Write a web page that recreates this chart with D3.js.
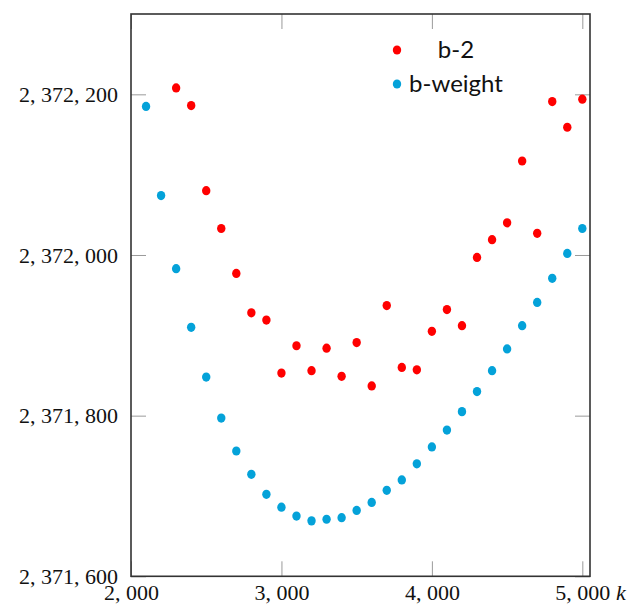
<!DOCTYPE html>
<html>
<head>
<meta charset="utf-8">
<script src="https://cdn.jsdelivr.net/npm/d3@7"></script>
<style>
  html, body { margin: 0; padding: 0; background: #fff; }
  svg { display: block; }
</style>
</head>
<body>
<svg id="chart" width="644" height="604"></svg>
<script>
// k values shared by both series
const kValues = [2100, 2200, 2300, 2400, 2500, 2600, 2700, 2800, 2900, 3000,
                 3100, 3200, 3300, 3400, 3500, 3600, 3700, 3800, 3900, 4000,
                 4100, 4200, 4300, 4400, 4500, 4600, 4700, 4800, 4900, 5000];

// b-2 starts at k = 2300
const b2K = kValues.slice(2);
const b2Values = [2372208, 2372186, 2372080, 2372033, 2371977, 2371928, 2371919, 2371853,
                  2371887, 2371856, 2371884, 2371849, 2371891, 2371837, 2371937, 2371860,
                  2371857, 2371905, 2371932, 2371912, 2371997, 2372019, 2372040, 2372117,
                  2372027, 2372191, 2372159, 2372194];

const bWeightValues = [2372185, 2372074, 2371983, 2371910, 2371848, 2371797, 2371756, 2371727,
                       2371702, 2371686, 2371675, 2371669, 2371671, 2371673, 2371682, 2371692,
                       2371707, 2371720, 2371740, 2371761, 2371782, 2371805, 2371830, 2371856,
                       2371883, 2371912, 2371941, 2371971, 2372002, 2372033];

const xTicks = [2000, 3000, 4000, 5000];
const yTicks = [2371600, 2371800, 2372000, 2372200];

const seriesNames = ["b-2", "b-weight"];
const seriesColors = ["#ff0000", "#04a2d9"];

const svg = d3.select("#chart");
const plotLeft = 131, plotRight = 590, plotTop = 14, plotBottom = 576.3;

const x = d3.scaleLinear().domain([2000, 5051]).range([plotLeft, plotRight]);
const y = d3.scaleLinear().domain([2371600, 2372300]).range([plotBottom, plotTop]);

// thousands separator followed by a small space, as in math-mode numbers
const fmt = v => d3.format(",")(v).replace(/,/g, ", ");

const tickLen = 15;
const labelFont = "'Liberation Serif', 'Times New Roman', serif";
function styleAxis(g) {
  g.select(".domain").remove();
  g.selectAll(".tick line").attr("stroke", "#9a9a9a").attr("stroke-width", 1);
}

// bottom axis, inward ticks with labels
svg.append("g")
  .attr("transform", `translate(0,${plotBottom})`)
  .call(d3.axisBottom(x).tickValues(xTicks).tickSize(-tickLen).tickFormat(fmt))
  .call(styleAxis)
  .call(g => g.selectAll("text")
    .attr("y", 24).attr("dy", null)
    .attr("font-family", labelFont)
    .attr("font-size", 22)
    .attr("fill", "#111"));

// top axis, ticks only
svg.append("g")
  .attr("transform", `translate(0,${plotTop})`)
  .call(d3.axisTop(x).tickValues(xTicks).tickSize(-tickLen).tickFormat(""))
  .call(styleAxis);

// left axis, inward ticks with labels
svg.append("g")
  .attr("transform", `translate(${plotLeft},0)`)
  .call(d3.axisLeft(y).tickValues(yTicks).tickSize(-tickLen).tickFormat(fmt))
  .call(styleAxis)
  .call(g => g.selectAll("text")
    .attr("x", -13)
    .attr("font-family", labelFont)
    .attr("font-size", 22)
    .attr("fill", "#111"));

// right axis, ticks only
svg.append("g")
  .attr("transform", `translate(${plotRight},0)`)
  .call(d3.axisRight(y).tickValues(yTicks).tickSize(-tickLen).tickFormat(""))
  .call(styleAxis);

// axis frame
svg.append("rect")
  .attr("x", plotLeft).attr("y", plotTop)
  .attr("width", plotRight - plotLeft).attr("height", plotBottom - plotTop)
  .attr("fill", "none").attr("stroke", "#333").attr("stroke-width", 1.6);

// x axis variable
svg.append("text")
  .attr("x", 616).attr("y", 600)
  .attr("font-family", labelFont)
  .attr("font-style", "italic")
  .attr("font-size", 22)
  .attr("fill", "#111")
  .text("k");

const rx = 4.2, ry = 4.6;

// b-weight markers
svg.append("g").selectAll("ellipse")
  .data(kValues.map((k, i) => [k, bWeightValues[i]]))
  .join("ellipse")
  .attr("cx", d => x(d[0])).attr("cy", d => y(d[1]))
  .attr("rx", rx).attr("ry", ry)
  .attr("fill", seriesColors[1]);

// b-2 markers
svg.append("g").selectAll("ellipse")
  .data(b2K.map((k, i) => [k, b2Values[i]]))
  .join("ellipse")
  .attr("cx", d => x(d[0])).attr("cy", d => y(d[1]))
  .attr("rx", rx).attr("ry", ry)
  .attr("fill", seriesColors[0]);

// legend
const legend = svg.append("g");
const legendRows = [50, 84];
seriesNames.forEach((name, i) => {
  legend.append("ellipse")
    .attr("cx", 397).attr("cy", legendRows[i])
    .attr("rx", rx).attr("ry", ry)
    .attr("fill", seriesColors[i]);
  legend.append("text")
    .attr("x", 456).attr("y", legendRows[i])
    .attr("dy", "0.35em")
    .attr("text-anchor", "middle")
    .attr("font-family", "Lato, sans-serif")
    .attr("font-size", 24)
    .attr("fill", "#111")
    .text(name);
});
</script>
</body>
</html>
